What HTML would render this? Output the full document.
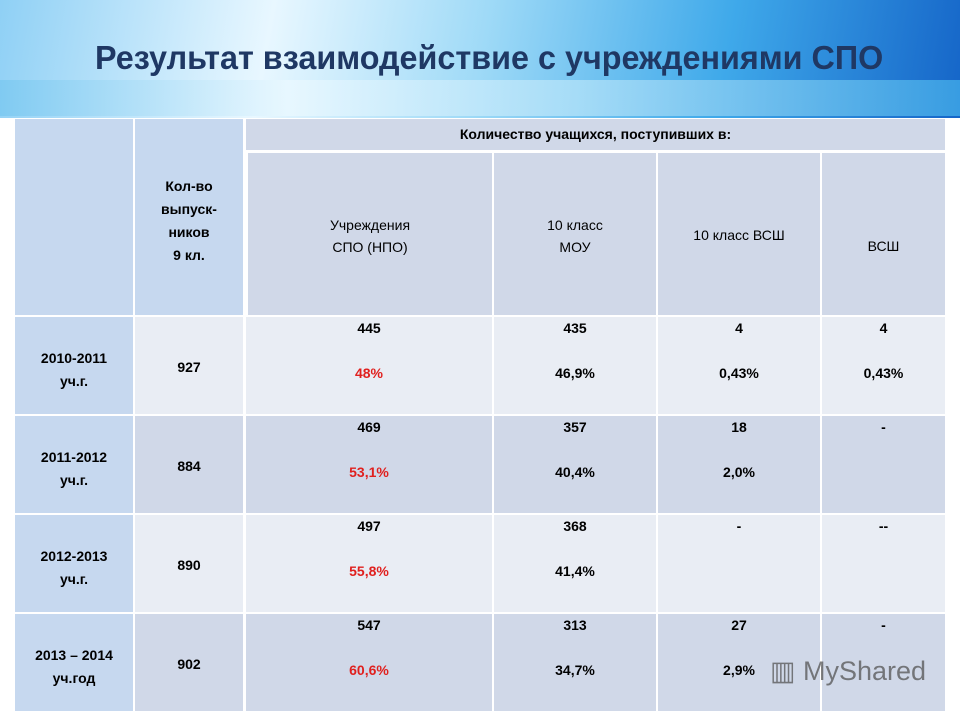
<!DOCTYPE html>
<html><head><meta charset="utf-8"><style>
body{margin:0;width:960px;height:720px;overflow:hidden;background:#fff;font-family:"Liberation Sans",sans-serif;position:relative}
.banner{position:absolute;left:0;top:0;width:960px;height:118px;background:linear-gradient(100deg,#8fd0f5 0%,#e8f7ff 28%,#9fdaf7 50%,#3fa9ea 75%,#1565c8 100%)}
.band{position:absolute;left:0;top:80px;width:960px;height:36px;background:linear-gradient(90deg,#7cc9f1,#e9f8ff 30%,#aee0f8 60%,#3ea6e6 100%);opacity:.85}
.title{position:absolute;left:95px;top:39px;font-size:33px;font-weight:bold;color:#1f3864;white-space:nowrap;transform-origin:0 0;transform:scaleX(.98)}
.c{position:absolute;box-sizing:border-box;font-size:14px;color:#000;text-align:center}
.hd{background:#d0d8e8}
.lb{background:#c6d8ef}
.lt{background:#e9edf4}
.dk{background:#d0d8e8}
.t{position:absolute;left:0;right:0;text-align:center;line-height:18px}
b{font-weight:bold}
.red{color:#e0201e}
</style></head><body>
<div class="banner"></div>
<div class="band"></div>
<div class="title">Результат взаимодействие с учреждениями СПО</div>

<div>
<div class="c lb" style="left:15px;top:119px;width:118px;height:196px"></div>
<div class="c lb" style="left:135px;top:119px;width:108px;height:196px"><div class="t" style="top:56px;font-weight:bold;line-height:23px">Кол-во<br>выпуск-<br>ников<br>9 кл.</div></div>
<div class="c hd" style="left:246px;top:119px;width:699px;height:31px"><div class="t" style="top:6px;font-weight:bold">Количество учащихся, поступивших в:</div></div>
<div class="c hd" style="left:248px;top:153px;width:244px;height:162px"><div class="t" style="top:61px;line-height:22px">Учреждения<br>СПО (НПО)</div></div>
<div class="c hd" style="left:494px;top:153px;width:162px;height:162px"><div class="t" style="top:61px;line-height:22px">10 класс<br>МОУ</div></div>
<div class="c hd" style="left:658px;top:153px;width:162px;height:162px"><div class="t" style="top:73px">10 класс ВСШ</div></div>
<div class="c hd" style="left:822px;top:153px;width:123px;height:162px"><div class="t" style="top:84px">ВСШ</div></div>
</div>
<div id="rows"></div>
<div style="position:absolute;left:770px;top:656px;font-size:27px;color:#555;opacity:.75">▥ MyShared</div>
<script>
const years=[["2010-2011","уч.г."],["2011-2012","уч.г."],["2012-2013","уч.г."],["2013 – 2014","уч.год"]];
const grads=["927","884","890","902"];
const spoN=["445","469","497","547"],spoP=["48%","53,1%","55,8%","60,6%"];
const mouN=["435","357","368","313"],mouP=["46,9%","40,4%","41,4%","34,7%"];
const v10N=["4","18","-","27"],v10P=["0,43%","2,0%","","2,9%"];
const vN=["4","-","--","-"],vP=["0,43%","","",""];
const R=document.getElementById('rows');
function cell(x,y,w,h,cls,html,name){const d=document.createElement('div');d.className='c '+cls;d.style.cssText=`left:${x}px;top:${y}px;width:${w}px;height:${h}px`;d.innerHTML=html;


R.appendChild(d);}
years.forEach((yr,i)=>{const y=317+i*99,h=97,bg=i%2?'dk':'lt';
cell(15,y,118,h,'lb',`<div class="t" style="top:30px;font-weight:bold;line-height:23px">${yr[0]}<br>${yr[1]}</div>`,'year-cell');
cell(135,y,108,h,bg,`<div class="t" style="top:41px;font-weight:bold">${grads[i]}</div>`,'graduates-cell');
const two=(n,p,red)=>`<div class="t" style="top:2px;font-weight:bold">${n}</div><div class="t${red?' red':''}" style="top:47px;font-weight:bold">${p}</div>`;
cell(246,y,246,h,bg,two(spoN[i],spoP[i],true),'spo-cell');
cell(494,y,162,h,bg,two(mouN[i],mouP[i]),'mou-cell');
cell(658,y,162,h,bg,two(v10N[i],v10P[i]),'vssh10-cell');
cell(822,y,123,h,bg,two(vN[i],vP[i]),'vssh-cell');
});
</script>
</body></html>
